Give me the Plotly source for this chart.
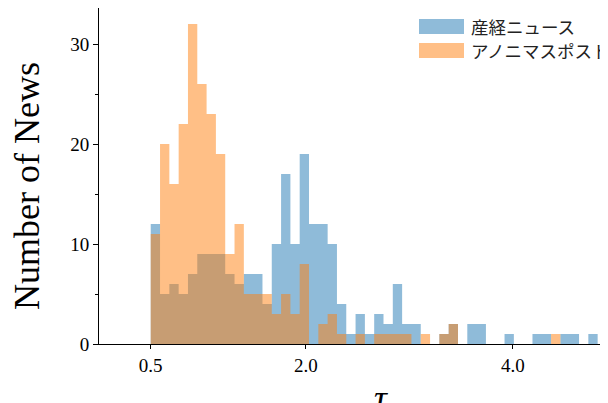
import plotly.graph_objects as go

# ---- data (histogram counts per bin) ----
bin_start = 0.5
bin_width = 0.09
series_names = ["産経ニュース", "アノニマスポスト"]
sankei_counts = [12, 5, 6, 5, 7, 9, 9, 9, 7, 6,
                 7, 7, 4, 10, 17, 10, 19, 12, 12, 10,
                 4, 1, 3, 1, 3, 2, 6, 2, 2, 0,
                 0, 1, 2, 0, 2, 2, 0, 0, 1, 0,
                 0, 1, 1, 0, 1, 1, 0, 1, 0]
anonymous_counts = [11, 20, 16, 22, 32, 26, 23, 19, 9, 12,
                    5, 5, 5, 3, 5, 3, 8, 0, 2, 3,
                    1, 0, 1, 0, 1, 1, 1, 1, 0, 1,
                    0, 1, 2, 0, 0, 0, 0, 0, 0, 0,
                    0, 0, 0, 1, 0, 0, 0, 0, 0]
x_tick_values = [0.5, 2.0, 4.0]
x_tick_labels = ["0.5", "2.0", "4.0"]
y_tick_values = [0, 10, 20, 30]
x_label = "τ"
y_label = "Number of News"

fill_colors = ["rgba(31,119,180,0.5)", "rgba(255,127,14,0.5)"]
legend_colors = ["#8fbbd9", "#ffbf86"]


def step_outline(counts):
    # histogram outline (left edges + closing right edge), drawn as a step fill
    xs = [bin_start + i * bin_width for i in range(len(counts) + 1)]
    ys = list(counts) + [counts[-1]]
    return [xs[0]] + xs + [xs[-1]], [0] + ys + [0]


fig = go.Figure()
for name, counts, col in [
    (series_names[0], sankei_counts, fill_colors[0]),
    (series_names[1], anonymous_counts, fill_colors[1]),
]:
    xs, ys = step_outline(counts)
    fig.add_trace(go.Scatter(
        x=xs, y=ys, name=name, mode="lines", line=dict(shape="hv", width=0),
        fill="toself", fillcolor=col, showlegend=False, hoverinfo="skip",
    ))

serif = "Liberation Serif, Times New Roman, serif"
# page body has an 8px margin; the figure is sized/positioned to compensate
OFF = 8
W, H = 600, 395
ml, mr, mt, mb = 91, 0, 0, 59

fig.update_layout(
    width=W, height=H,
    margin=dict(l=ml, r=mr, t=mt, b=mb, autoexpand=False),
    plot_bgcolor="white", paper_bgcolor="white",
    font=dict(family=serif, size=19, color="black"),
    xaxis=dict(range=[0, 4.92], tickmode="array", tickvals=x_tick_values,
               ticktext=x_tick_labels, ticks="outside", ticklen=4, tickwidth=1,
               tickcolor="black", showline=True, linecolor="black", linewidth=1,
               mirror=True, showgrid=False, zeroline=False, automargin=False,
               tickfont=dict(family=serif, size=19, color="black")),
    yaxis=dict(range=[0, 33.6], tickmode="array", tickvals=y_tick_values,
               ticks="outside", ticklen=5, tickwidth=1, tickcolor="black",
               minor=dict(ticks="outside", ticklen=3, dtick=5, tickcolor="black", tickwidth=1),
               showline=True, linecolor="black", linewidth=1, mirror=False,
               showgrid=False, zeroline=False, automargin=False,
               tickfont=dict(family=serif, size=19, color="black")),
)

pw = W - ml - mr
ph = H - mt - mb


def px2paper_x(px):
    return (px - OFF - ml) / pw


def px2paper_y(py):
    return (H - mb - (py - OFF)) / ph


# legend (manual, to match wide patches)
leg_y = [26.5, 50.5]
for i in range(2):
    fig.add_shape(type="rect", xref="paper", yref="paper",
                  x0=px2paper_x(419), x1=px2paper_x(464),
                  y0=px2paper_y(leg_y[i] + 7.5), y1=px2paper_y(leg_y[i] - 7.5),
                  fillcolor=legend_colors[i], line=dict(width=0))
    fig.add_annotation(xref="paper", yref="paper", x=px2paper_x(469), y=px2paper_y(leg_y[i]),
                       text=series_names[i], showarrow=False, xanchor="left", yanchor="middle",
                       font=dict(family="Noto Sans CJK JP", size=17.5, color="#222222"))

fig.add_annotation(xref="paper", yref="paper", x=px2paper_x(27), y=px2paper_y(186),
                   text=y_label, textangle=-90, showarrow=False,
                   xanchor="center", yanchor="middle",
                   font=dict(family=serif, size=36, color="black"))
fig.add_annotation(xref="paper", yref="paper", x=px2paper_x(381), y=px2paper_y(376),
                   text="<i>" + x_label + "</i>", showarrow=False,
                   xanchor="center", yanchor="top",
                   font=dict(family=serif, size=36, color="black"))

fig.write_html("out.html")
